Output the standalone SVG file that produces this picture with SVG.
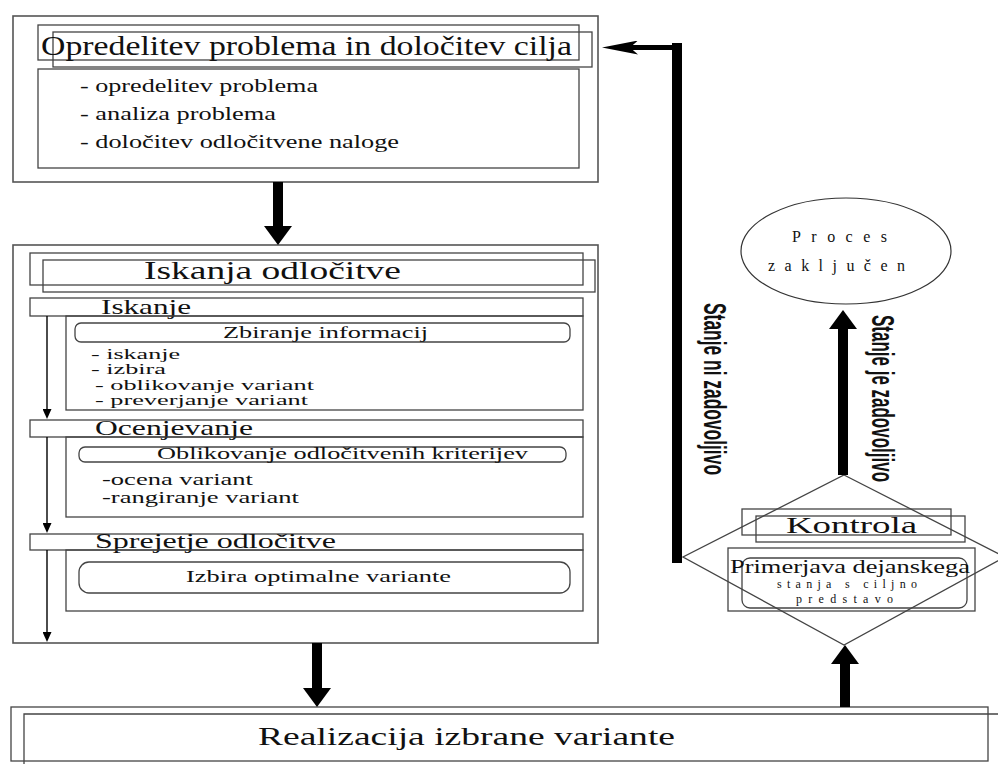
<svg xmlns="http://www.w3.org/2000/svg" width="998" height="764" viewBox="0 0 998 764">
<style>
.bg{fill:#ffffff}
.box{fill:none;stroke:#444;stroke-width:1.3}
.outer{fill:none;stroke:#555;stroke-width:1.6}
.bar{fill:#fff;stroke:#444;stroke-width:1.3}
.t{font-family:"Liberation Serif","Times New Roman",serif;fill:#111}
.v{font-family:"Liberation Sans Narrow","Liberation Sans",Arial,sans-serif;font-weight:bold;fill:#111}
.thick{stroke:#000;stroke-width:10;fill:none}
.thin{stroke:#000;stroke-width:1.4;fill:none}
</style>
<defs>
<marker id="big" viewBox="0 0 19 28" refX="0" refY="14" markerWidth="19" markerHeight="28" markerUnits="userSpaceOnUse" orient="auto">
<path d="M0,0 L19,14 L0,28 Z" fill="#000"/>
</marker>
<marker id="barb" viewBox="0 0 36 14" refX="8" refY="7" markerWidth="36" markerHeight="14" markerUnits="userSpaceOnUse" orient="auto">
<path d="M0,0 L36,7 L0,14 L8,7 Z" fill="#000"/>
</marker>
<marker id="small" viewBox="0 0 10 9" refX="0" refY="4.5" markerWidth="10" markerHeight="9" markerUnits="userSpaceOnUse" orient="auto">
<path d="M0,0 L10,4.5 L0,9 Z" fill="#000"/>
</marker>
</defs>
<rect class="bg" x="0" y="0" width="998" height="764"/>

<g id="node-opredelitev">
<rect class="outer" x="13" y="16" width="585" height="166"/>
<rect class="box" x="38" y="25" width="541" height="35"/>
<rect class="box" x="53" y="32" width="539" height="35"/>
<text class="t" x="41" y="55" font-size="28" textLength="531" lengthAdjust="spacingAndGlyphs">Opredelitev problema in določitev cilja</text>
<rect class="box" x="38" y="69" width="541" height="99"/>
<text class="t" x="80" y="92" font-size="19" textLength="238" lengthAdjust="spacingAndGlyphs">- opredelitev problema</text>
<text class="t" x="80" y="120" font-size="19" textLength="196" lengthAdjust="spacingAndGlyphs">- analiza problema</text>
<text class="t" x="80" y="148" font-size="19" textLength="319" lengthAdjust="spacingAndGlyphs">- določitev odločitvene naloge</text>
</g>

<g id="node-iskanja">
<rect class="outer" x="13" y="245" width="585" height="398"/>
<rect class="box" x="30" y="253" width="553" height="32"/>
<rect class="box" x="43" y="260" width="552" height="32"/>
<text class="t" x="144" y="279" font-size="26" textLength="257" lengthAdjust="spacingAndGlyphs">Iskanja odločitve</text>

<rect class="bar" x="30" y="298" width="553" height="18"/>
<text class="t" x="101" y="314" font-size="21" textLength="90" lengthAdjust="spacingAndGlyphs">Iskanje</text>
<rect class="box" x="66" y="316" width="517" height="94"/>
<rect class="box" x="75" y="323" width="495" height="19" rx="6"/>
<text class="t" x="223" y="338" font-size="17" textLength="205" lengthAdjust="spacingAndGlyphs">Zbiranje informacij</text>
<text class="t" x="91" y="359" font-size="14" textLength="89" lengthAdjust="spacingAndGlyphs">- iskanje</text>
<text class="t" x="91" y="374" font-size="14" textLength="75" lengthAdjust="spacingAndGlyphs">- izbira</text>
<text class="t" x="95" y="390" font-size="14" textLength="219" lengthAdjust="spacingAndGlyphs">- oblikovanje variant</text>
<text class="t" x="95" y="405" font-size="14" textLength="213" lengthAdjust="spacingAndGlyphs">- preverjanje variant</text>

<rect class="bar" x="30" y="420" width="553" height="17"/>
<text class="t" x="95" y="435" font-size="21" textLength="158" lengthAdjust="spacingAndGlyphs">Ocenjevanje</text>
<rect class="box" x="66" y="437" width="517" height="80"/>
<rect class="box" x="79" y="447" width="487" height="15" rx="6"/>
<text class="t" x="157" y="459" font-size="16" textLength="371" lengthAdjust="spacingAndGlyphs">Oblikovanje odločitvenih kriterijev</text>
<text class="t" x="102" y="485" font-size="17" textLength="151" lengthAdjust="spacingAndGlyphs">-ocena variant</text>
<text class="t" x="102" y="503" font-size="17" textLength="197" lengthAdjust="spacingAndGlyphs">-rangiranje variant</text>

<rect class="bar" x="30" y="534" width="553" height="16"/>
<text class="t" x="95" y="548" font-size="21" textLength="241" lengthAdjust="spacingAndGlyphs">Sprejetje odločitve</text>
<rect class="box" x="66" y="550" width="517" height="61"/>
<rect class="box" x="79" y="562" width="491" height="31" rx="10"/>
<text class="t" x="186" y="582" font-size="17" textLength="265" lengthAdjust="spacingAndGlyphs">Izbira optimalne variante</text>
</g>

<g id="node-realizacija">
<rect class="box" x="11" y="707" width="977" height="54"/>
<path class="box" d="M24,764 L24,714 L998,714"/>
<text class="t" x="258" y="745" font-size="26" textLength="417" lengthAdjust="spacingAndGlyphs">Realizacija izbrane variante</text>
</g>

<g id="node-kontrola">
<path class="box" d="M844,475 L1005,557 L844,645 L683,557 Z"/>
<rect class="box" x="742" y="509" width="209" height="26"/>
<rect class="box" x="756" y="516" width="209" height="26"/>
<text class="t" x="786" y="533" font-size="24" textLength="131" lengthAdjust="spacingAndGlyphs">Kontrola</text>
<rect class="box" x="728" y="548" width="247" height="63"/>
<rect class="box" x="742" y="558" width="225" height="50" rx="8"/>
<text class="t" x="730" y="573" font-size="18" textLength="240" lengthAdjust="spacingAndGlyphs">Primerjava dejanskega</text>
<text class="t" x="777" y="588" font-size="12" textLength="140" lengthAdjust="spacing">stanja s ciljno</text>
<text class="t" x="796" y="603" font-size="12" textLength="97" lengthAdjust="spacing">predstavo</text>
</g>

<g id="node-proces">
<ellipse cx="846" cy="251" rx="105" ry="53" fill="none" stroke="#333" stroke-width="1.2"/>
<text class="t" x="792" y="242" font-size="16" textLength="95" lengthAdjust="spacing">Proces</text>
<text class="t" x="768" y="271" font-size="16" textLength="137" lengthAdjust="spacing">zaključen</text>
</g>

<g id="connectors">
<line class="thick" x1="278" y1="182" x2="278" y2="226" marker-end="url(#big)"/>
<line class="thick" x1="317" y1="643" x2="317" y2="688" marker-end="url(#big)"/>
<line class="thick" x1="845" y1="707" x2="845" y2="664" marker-end="url(#big)"/>
<line class="thick" x1="843" y1="475" x2="843" y2="329" marker-end="url(#big)"/>
<line class="thick" x1="677" y1="563" x2="677" y2="43"/>
<line x1="682" y1="47.5" x2="630" y2="47.5" stroke="#000" stroke-width="5" marker-end="url(#barb)"/>
<line class="thin" x1="47" y1="316" x2="47" y2="409" marker-end="url(#small)"/>
<line class="thin" x1="47" y1="437" x2="47" y2="523" marker-end="url(#small)"/>
<line class="thin" x1="47" y1="550" x2="47" y2="632" marker-end="url(#small)"/>
<text class="v" transform="translate(704,303) rotate(90)" font-size="32" textLength="172" lengthAdjust="spacingAndGlyphs">Stanje ni zadovoljivo</text>
<text class="v" transform="translate(872,315) rotate(90)" font-size="32" textLength="167" lengthAdjust="spacingAndGlyphs">Stanje je zadovoljivo</text>
</g>
</svg>
